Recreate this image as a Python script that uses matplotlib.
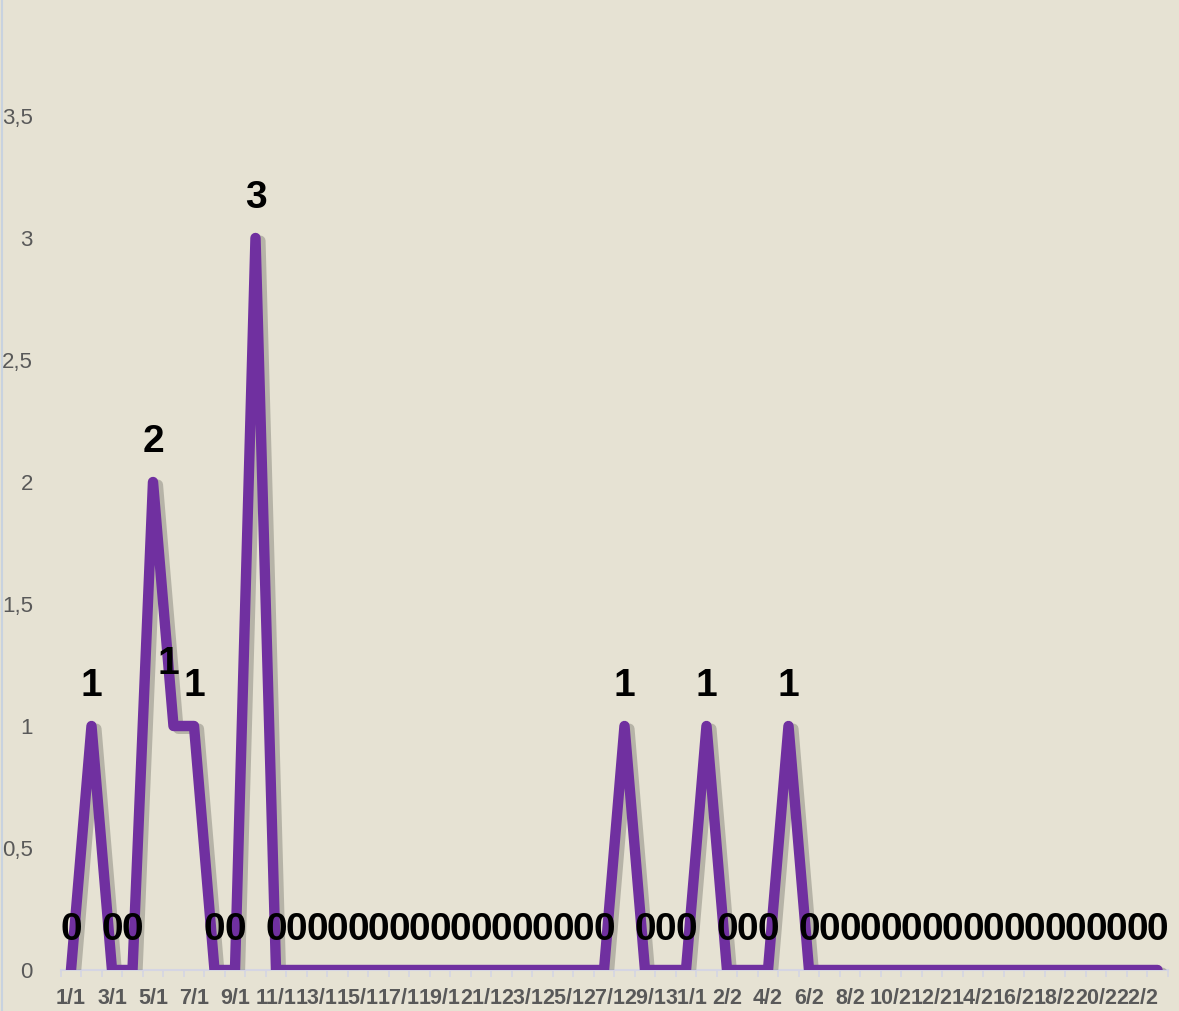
import matplotlib
matplotlib.use("Agg")
import matplotlib.pyplot as plt
import matplotlib.patheffects as pe
from matplotlib.ticker import FixedLocator, FuncFormatter

# day labels, January then February
days = [f"{d}/1" for d in range(1, 32)] + [f"{d}/2" for d in range(1, 24)]
counts = [0, 1, 0, 0, 2, 1, 1, 0, 0, 3,
          0, 0, 0, 0, 0, 0, 0, 0, 0, 0, 0, 0, 0, 0, 0, 0, 0,
          1, 0, 0, 0,
          1, 0, 0, 0,
          1,
          0, 0, 0, 0, 0, 0, 0, 0, 0, 0, 0, 0, 0, 0, 0, 0, 0, 0]
yticks = [0, 0.5, 1, 1.5, 2, 2.5, 3, 3.5]

bg = "#E6E2D3"
purple = "#7030A0"
grey = "#595959"

fig = plt.figure(figsize=(11.79, 10.11), dpi=100, facecolor=bg)
ax = fig.add_axes([60.75 / 1179, 41 / 1011, (1167.75 - 60.75) / 1179, 970 / 1011])
ax.set_facecolor(bg)

x = list(range(len(days)))
ax.plot(x, counts, color=purple, lw=7.5, solid_joinstyle="round", solid_capstyle="round",
        zorder=3,
        path_effects=[pe.SimpleLineShadow(offset=(3.5, -2), shadow_color="#5e5e55", alpha=0.35),
                      pe.Normal()])

# data labels
for i, v in enumerate(counts):
    dx, dy = 0, 29
    if i == 5:
        dx, dy = -4, 45
    ax.annotate(str(v), (i, v), xytext=(dx, dy), textcoords="offset points",
                ha="center", va="center", fontsize=28, fontweight="bold",
                family="Liberation Sans", color="black", zorder=5)

ax.set_xlim(-0.5, len(days) - 0.5)
ax.set_ylim(0, 970 / 244)

ax.set_yticks(yticks)
ax.yaxis.set_major_formatter(FuncFormatter(lambda v, p: f"{v:g}".replace(".", ",")))
ax.tick_params(axis="y", length=0, pad=20, labelsize=16, labelcolor=grey)
for t in ax.get_yticklabels():
    t.set_family("Liberation Sans")

ax.xaxis.set_major_locator(FixedLocator(x[::2]))
ax.set_xticklabels(days[::2])
ax.xaxis.set_minor_locator(FixedLocator([i - 0.5 for i in range(len(days) + 1)]))
ax.tick_params(axis="x", which="major", length=0, pad=13, labelsize=15.5, labelcolor=grey)
ax.tick_params(axis="x", which="minor", length=5, color="#D5D5E3", width=1.2)
for t in ax.get_xticklabels():
    t.set_family("Liberation Sans")
    t.set_fontweight("bold")

for s in ["top", "right", "left"]:
    ax.spines[s].set_visible(False)
ax.spines["bottom"].set_color("#D5D5E3")
ax.spines["bottom"].set_linewidth(1.5)

# thin border at the left edge of the chart
fig.add_artist(plt.Line2D([2 / 1179, 2 / 1179], [0, 1], color="#C8D2DF", lw=1.5,
                          transform=fig.transFigure))

fig.savefig("out.png", dpi=100, facecolor=bg)
